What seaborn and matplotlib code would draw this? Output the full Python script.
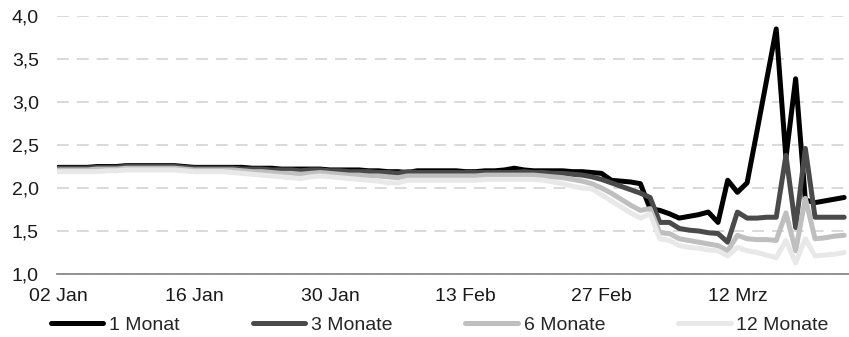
#!/usr/bin/env python3
"""Money market rates Jan-Mar 2020, recreated with seaborn."""

import matplotlib

matplotlib.use("Agg")
import matplotlib.pyplot as plt
from matplotlib.lines import Line2D
import numpy as np
import pandas as pd
import seaborn as sns


START = "2020-01-02"
SERIES = ["1 Monat", "3 Monate", "6 Monate", "12 Monate"]
COLORS = ["#000000", "#4a4a4a", "#bfbfbf", "#e8e8e8"]
TICK_LABELS = ["02 Jan", "16 Jan", "30 Jan", "13 Feb", "27 Feb", "12 Mrz"]
Y_TICKS = [1.0, 1.5, 2.0, 2.5, 3.0, 3.5, 4.0]

m1 = [
    2.24, 2.24, 2.24, 2.24, 2.25, 2.25, 2.25, 2.26, 2.26, 2.26, 2.26, 2.26, 2.26, 2.25,
    2.24, 2.24, 2.24, 2.24, 2.24, 2.24, 2.23, 2.23, 2.23, 2.22, 2.22, 2.22, 2.22, 2.22,
    2.21, 2.21, 2.21, 2.21, 2.20, 2.20, 2.19, 2.19, 2.18, 2.20, 2.20, 2.20, 2.20, 2.20,
    2.19, 2.19, 2.20, 2.20, 2.21, 2.23, 2.21, 2.20, 2.20, 2.20, 2.20, 2.19, 2.19, 2.18,
    2.17, 2.09, 2.08, 2.07, 2.05, 1.76, 1.74, 1.70, 1.65, 1.67, 1.69, 1.72, 1.60, 2.09,
    1.95, 2.06, 2.65, 3.25, 3.85, 2.35, 3.27, 1.86, 1.83, 1.85, 1.87, 1.89,
]
m3 = [
    2.23, 2.23, 2.23, 2.23, 2.24, 2.24, 2.24, 2.25, 2.25, 2.25, 2.25, 2.25, 2.25, 2.24,
    2.23, 2.23, 2.23, 2.23, 2.23, 2.22, 2.22, 2.22, 2.21, 2.21, 2.21, 2.20, 2.21, 2.21,
    2.20, 2.20, 2.19, 2.19, 2.19, 2.18, 2.18, 2.17, 2.19, 2.18, 2.18, 2.18, 2.18, 2.18,
    2.18, 2.18, 2.18, 2.18, 2.18, 2.18, 2.19, 2.18, 2.18, 2.17, 2.17, 2.16, 2.15, 2.13,
    2.10, 2.06, 2.02, 1.98, 1.94, 1.89, 1.60, 1.60, 1.53, 1.51, 1.50, 1.48, 1.47, 1.37,
    1.72, 1.65, 1.65, 1.66, 1.66, 2.38, 1.54, 2.46, 1.66, 1.66, 1.66, 1.66,
]
m6 = [
    2.21, 2.21, 2.21, 2.21, 2.22, 2.22, 2.22, 2.23, 2.23, 2.23, 2.23, 2.23, 2.23, 2.22,
    2.21, 2.21, 2.21, 2.21, 2.21, 2.20, 2.19, 2.19, 2.18, 2.17, 2.17, 2.16, 2.17, 2.18,
    2.17, 2.16, 2.15, 2.15, 2.14, 2.14, 2.13, 2.12, 2.14, 2.14, 2.14, 2.14, 2.14, 2.14,
    2.14, 2.14, 2.15, 2.15, 2.15, 2.15, 2.15, 2.15, 2.14, 2.13, 2.12, 2.10, 2.08, 2.05,
    2.00, 1.94, 1.87, 1.80, 1.74, 1.76, 1.48, 1.47, 1.41, 1.39, 1.37, 1.35, 1.33, 1.27,
    1.45, 1.41, 1.40, 1.40, 1.39, 1.71, 1.27, 1.88, 1.41, 1.42, 1.44, 1.45,
]
m12 = [
    2.19, 2.19, 2.19, 2.19, 2.19, 2.20, 2.20, 2.21, 2.21, 2.21, 2.21, 2.21, 2.21, 2.20,
    2.19, 2.19, 2.19, 2.19, 2.18, 2.17, 2.16, 2.15, 2.14, 2.13, 2.12, 2.11, 2.13, 2.14,
    2.13, 2.12, 2.11, 2.10, 2.09, 2.08, 2.06, 2.06, 2.09, 2.09, 2.09, 2.09, 2.09, 2.09,
    2.09, 2.09, 2.10, 2.10, 2.10, 2.10, 2.10, 2.10, 2.09, 2.07, 2.05, 2.02, 2.00, 1.99,
    1.92, 1.85, 1.78, 1.71, 1.65, 1.70, 1.41, 1.39, 1.33, 1.31, 1.30, 1.28, 1.27, 1.21,
    1.31, 1.27, 1.25, 1.22, 1.19, 1.39, 1.13, 1.41, 1.21, 1.22, 1.23, 1.25,
]


def main() -> None:
    sns.set_theme(style="white")
    plt.rcParams.update(
        {
            "font.family": ["Liberation Sans", "DejaVu Sans"],
            "font.size": 14,
            "lines.scale_dashes": False,
        }
    )

    dates = pd.date_range(START, periods=len(m1), freq="D")
    frame = pd.DataFrame({"date": dates, "1 Monat": m1, "3 Monate": m3,
                          "6 Monate": m6, "12 Monate": m12})
    long = frame.melt(id_vars="date", var_name="series", value_name="rate")

    fig = plt.figure(figsize=(8.49, 3.37), dpi=100)
    ax = fig.add_axes([57 / 849, 1 - 274 / 337, 792 / 849, 258 / 337])

    sns.lineplot(
        data=long, x="date", y="rate", hue="series", hue_order=SERIES,
        palette=COLORS, linewidth=3.6, legend=False, sort=False, ax=ax,
    )
    for line in ax.get_lines():
        line.set_solid_capstyle("round")
        line.set_solid_joinstyle("round")

    ax.set_ylim(1.0, 4.0)
    ax.set_xlim(dates[0] - pd.Timedelta(hours=3), dates[-1] + pd.Timedelta(hours=12))
    ax.set_yticks(Y_TICKS)
    ax.set_yticklabels([f"{v:.1f}".replace(".", ",") for v in Y_TICKS])
    ax.set_xticks(dates[::14])
    ax.set_xticklabels(TICK_LABELS)
    ax.set_xlabel("")
    ax.set_ylabel("")
    ax.tick_params(axis="y", length=0, pad=13, labelsize=14, colors="#1a1a1a")
    ax.tick_params(axis="x", length=0, pad=10, labelsize=14, colors="#1a1a1a")

    ax.grid(axis="y", color="#d9d9d9", linewidth=1.4, linestyle=(0, (8.5, 5.8)))
    ax.set_axisbelow(True)
    for side in ["top", "right", "left"]:
        ax.spines[side].set_visible(False)
    ax.spines["bottom"].set_color("#8a8a8a")
    ax.spines["bottom"].set_linewidth(1.3)

    handles = [
        Line2D([], [], color=c, linewidth=3.6, solid_capstyle="round")
        for c in COLORS
    ]
    fig.legend(
        handles, SERIES, loc="center", bbox_to_anchor=(0.518, 0.036), ncol=4,
        frameon=False, handlelength=2.7, handletextpad=0.3, columnspacing=3.75,
        borderpad=0, fontsize=14,
    )

    fig.savefig("out.png", dpi=100, facecolor="white")
    plt.close(fig)


if __name__ == "__main__":
    main()
